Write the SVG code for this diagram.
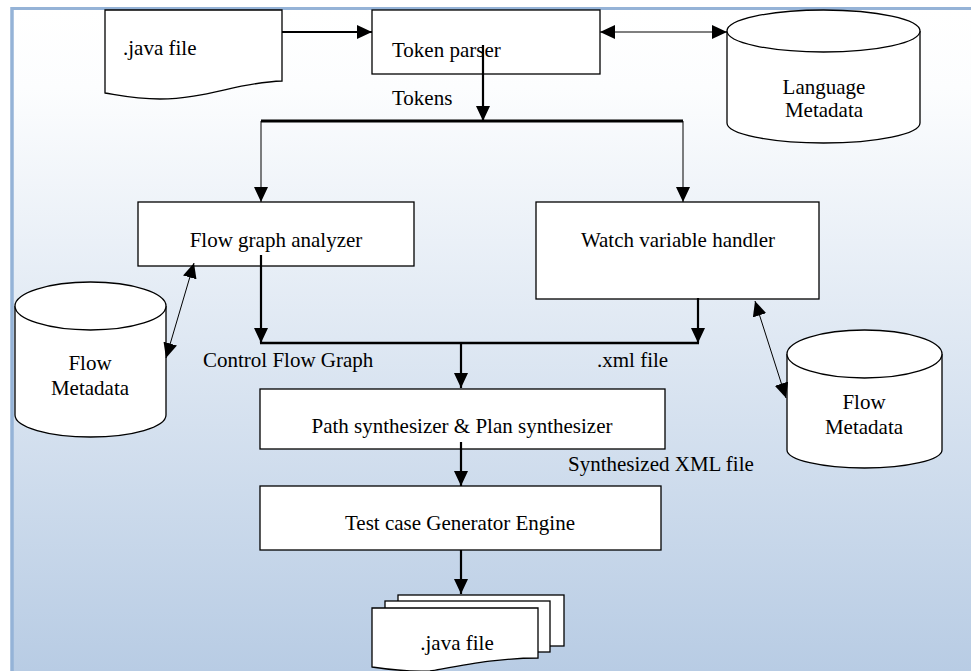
<svg xmlns="http://www.w3.org/2000/svg" width="971" height="671" viewBox="0 0 971 671">
<defs>
<linearGradient id="bg" x1="0" y1="0" x2="0" y2="1">
<stop offset="0" stop-color="#ffffff"/>
<stop offset="0.12" stop-color="#fcfdfe"/>
<stop offset="1" stop-color="#b8cce4"/>
</linearGradient>
<marker id="ah" viewBox="0 0 15 14" refX="15" refY="7" markerWidth="15" markerHeight="14" markerUnits="userSpaceOnUse" orient="auto-start-reverse">
<path d="M0,0 L15,7 L0,14 Z" fill="#000"/>
</marker>
</defs>
<style>
.shape{fill:#fff;stroke:#000;stroke-width:1.3}
.t{font-family:"Liberation Serif","Times New Roman",serif;font-size:21px;fill:#000}
.c{text-anchor:middle}
.bold{stroke:#000;stroke-width:2.2;fill:none}
.thin{stroke:#000;stroke-width:1;fill:none}
</style>
<rect x="0" y="0" width="971" height="671" fill="#fff"/>
<rect x="12" y="8.5" width="959" height="662.5" fill="url(#bg)"/>
<line x1="12" y1="8.5" x2="971" y2="8.5" stroke="#95b3d7" stroke-width="3"/>
<line x1="12" y1="7" x2="12" y2="671" stroke="#95b3d7" stroke-width="3.5"/>

<g id="java-file-in">
<path class="shape" d="M105,10 H282 V81 C240,82 205,99 160,99 C135,99 118,95 105,93 Z"/>
<text class="t" x="123" y="55">.java file</text>
</g>

<g id="token-parser">
<rect class="shape" x="372" y="10" width="228" height="64"/>
<text class="t" x="392" y="57">Token parser</text>
</g>

<g id="language-metadata">
<path class="shape" d="M727,31 V123 A96.5,20 0 0 0 920,123 V31"/>
<ellipse class="shape" cx="823.5" cy="31" rx="96.5" ry="21"/>
<text class="t c" x="824" y="94">Language</text>
<text class="t c" x="824" y="117">Metadata</text>
</g>

<g id="flow-graph-analyzer">
<rect class="shape" x="138" y="202" width="276" height="64"/>
<text class="t c" x="276" y="247">Flow graph analyzer</text>
</g>

<g id="watch-variable-handler">
<rect class="shape" x="536" y="202" width="283" height="97"/>
<text class="t c" x="678" y="247">Watch variable handler</text>
</g>

<g id="flow-metadata-left">
<path class="shape" d="M15,306 V415 A75.5,22 0 0 0 166,415 V306"/>
<ellipse class="shape" cx="90.5" cy="306" rx="75.5" ry="24"/>
<text class="t c" x="90" y="370">Flow</text>
<text class="t c" x="90" y="395">Metadata</text>
</g>

<g id="flow-metadata-right">
<path class="shape" d="M787,354 V450 A77.5,18 0 0 0 942,450 V354"/>
<ellipse class="shape" cx="864.5" cy="354" rx="77.5" ry="24"/>
<text class="t c" x="864" y="409">Flow</text>
<text class="t c" x="864" y="434">Metadata</text>
</g>

<g id="path-synthesizer">
<rect class="shape" x="260" y="389" width="405" height="60"/>
<text class="t c" x="462" y="433">Path synthesizer &amp; Plan synthesizer</text>
</g>

<g id="test-case-generator">
<rect class="shape" x="260" y="486" width="401" height="64"/>
<text class="t c" x="460" y="530">Test case Generator Engine</text>
</g>

<g id="java-files-out">
<rect class="shape" x="398" y="595" width="166" height="51"/>
<rect class="shape" x="385" y="601" width="165" height="51"/>
<path class="shape" d="M372,608 H538 V658 C500,658 470,664 430,671 C405,672 385,669 372,667 Z"/>
<text class="t c" x="457" y="650">.java file</text>
</g>

<g id="connectors">
<line class="bold" x1="282" y1="32" x2="372" y2="32" marker-end="url(#ah)"/>
<line class="thin" x1="600" y1="32" x2="727" y2="32" marker-start="url(#ah)" marker-end="url(#ah)"/>
<line class="bold" x1="483" y1="45" x2="483" y2="121" marker-end="url(#ah)"/>
<line x1="261" y1="121" x2="683" y2="121" stroke="#000" stroke-width="3"/>
<line class="thin" x1="261" y1="121" x2="261" y2="202" marker-end="url(#ah)"/>
<line class="thin" x1="683" y1="121" x2="683" y2="202" marker-end="url(#ah)"/>
<line class="thin" x1="194" y1="263" x2="166" y2="358" marker-start="url(#ah)" marker-end="url(#ah)"/>
<line class="bold" x1="261" y1="255" x2="261" y2="343" marker-end="url(#ah)"/>
<line class="bold" x1="698" y1="298" x2="698" y2="343" marker-end="url(#ah)"/>
<line x1="260" y1="343" x2="699" y2="343" stroke="#000" stroke-width="2.5"/>
<line class="bold" x1="461" y1="343" x2="461" y2="388" marker-end="url(#ah)"/>
<line class="bold" x1="461" y1="442" x2="461" y2="486" marker-end="url(#ah)"/>
<line class="bold" x1="461" y1="550" x2="461" y2="594" marker-end="url(#ah)"/>
<line class="thin" x1="755" y1="301" x2="786" y2="398" marker-start="url(#ah)" marker-end="url(#ah)"/>
</g>

<g id="labels">
<text class="t" x="392" y="105">Tokens</text>
<text class="t" x="203" y="367">Control Flow Graph</text>
<text class="t" x="597" y="367">.xml file</text>
<text class="t" x="568" y="471">Synthesized XML file</text>
</g>
</svg>
